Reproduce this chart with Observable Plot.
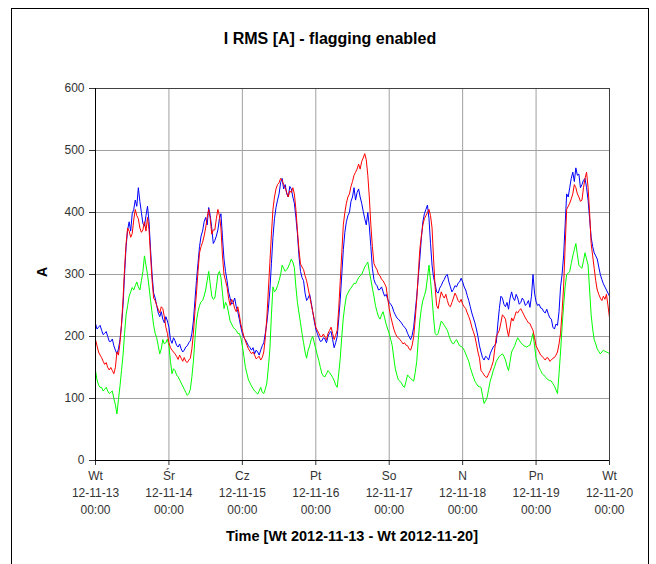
<!DOCTYPE html>
<html><head><meta charset="utf-8">
<script src="https://cdn.jsdelivr.net/npm/d3@7"></script>
<script src="https://cdn.jsdelivr.net/npm/@observablehq/plot@0.6"></script>
<style>
body{margin:0;background:#fff;font-family:"Liberation Sans",Arial,sans-serif;}
#wrap{position:relative;width:656px;height:564px;overflow:hidden;background:#fff;}
#wrap svg{position:absolute;left:0;top:0;}
#border{position:absolute;left:11px;top:8px;width:636px;height:620px;border:1px solid #000;pointer-events:none;}
.t{position:absolute;font-weight:bold;color:#000;white-space:nowrap;}
</style></head><body>
<div id="wrap"></div>
<script>
// Tick labels
const dayNames = ["Wt", "Śr", "Cz", "Pt", "So", "N", "Pn", "Wt"];
const dayDates = ["12-11-13", "12-11-14", "12-11-15", "12-11-16", "12-11-17", "12-11-18", "12-11-19", "12-11-20"];
const tickHours = [0, 24, 48, 72, 96, 120, 144, 168];
const yTicks = [0, 100, 200, 300, 400, 500, 600];

// Hours since 2012-11-13 00:00 (one reading every 30 minutes)
const hours = d3.range(0, 168.5, 0.5);

// Series values [A] (two readings per hour)
const blue = [
  221,212, 215,218, 210,203, 205,208, 200,192, 192,196, 185,178, 172,180, 195,218, 250,300,
  345,372, 385,370, 398,405, 420,410, 440,418, 400,382, 378,395, 410,385, 340,300, 270,262,
  250,238, 232,240, 228,222, 232,225, 215,195, 189,198, 193,186, 183,188, 180,175, 178,183,
  185,190, 193,205, 225,258, 290,318, 345,362, 370,385, 392,380, 408,395, 375,350, 355,362,
  372,390, 398,360, 325,305, 290,272, 262,252, 255,262, 248,240, 228,215, 205,198, 195,190,
  185,182, 178,182, 172,178, 175,170, 178,185, 190,205, 222,245, 275,318, 360,390, 408,420,
  430,448, 455,438, 445,430, 425,442, 438,425, 415,392, 366,330, 305,295, 290,270, 258,262,
  268,255, 240,225, 212,205, 198,192, 193,198, 196,190, 200,206, 208,195, 182,190, 200,228,
  260,300, 340,368, 385,395, 400,418, 425,440, 420,432, 438,425, 415,402, 390,380, 400,378,
  345,310, 292,285, 282,275, 276,280, 272,265, 268,260, 255,252, 248,240, 235,230, 228,225,
  222,218, 215,212, 205,200, 195,202, 215,240, 265,295, 325,358, 385,398, 405,412, 390,350,
  315,295, 285,272, 270,278, 282,288, 292,298, 300,288, 280,272, 276,282, 280,286, 288,294,
  288,280, 275,266, 258,248, 238,230, 222,212, 200,185, 175,166, 162,168, 166,162, 172,178,
  183,186, 190,220, 245,265, 262,252, 248,255, 244,262, 272,262, 258,268, 262,252, 255,262,
  258,250, 253,258, 247,265, 300,270, 256,250, 252,246, 245,240, 238,244, 236,230, 228,215,
  212,220, 218,240, 280,300, 330,380, 430,425, 440,455, 465,450, 472,460, 462,440, 445,452,
  455,440, 420,390, 360,345, 335,330, 325,312, 300,292, 285,280, 275,270, 265
];
const red = [
  195,185, 175,170, 166,160, 155,158, 150,146, 150,145, 140,150, 175,170, 190,220, 260,310,
  350,375, 370,360, 366,388, 405,395, 390,375, 368,372, 385,370, 392,372, 330,290, 262,258,
  250,244, 238,248, 245,232, 215,205, 190,182, 178,175, 172,168, 163,170, 165,160, 166,160,
  158,162, 165,180, 205,240, 270,305, 335,345, 352,362, 375,392, 405,390, 365,372, 372,390,
  405,395, 375,330, 300,290, 280,262, 250,260, 255,245, 240,248, 235,220, 210,200, 193,186,
  180,176, 172,175, 170,164, 166,168, 162,166, 175,198, 230,275, 320,365, 405,425, 438,445,
  448,455, 452,445, 440,432, 425,435, 432,440, 430,405, 371,340, 317,312, 308,298, 290,278,
  265,252, 240,228, 215,210, 205,200, 200,204, 199,195, 205,210, 215,205, 195,202, 210,245,
  290,335, 380,400, 415,425, 430,442, 450,460, 465,470, 478,470, 482,488, 495,485, 460,425,
  380,345, 318,312, 308,300, 298,292, 290,285, 280,262, 245,232, 222,212, 205,200, 198,195,
  192,188, 190,186, 185,180, 178,186, 200,228, 260,300, 340,362, 380,390, 395,400, 405,395,
  375,325, 280,250, 245,260, 272,266, 262,268, 258,250, 248,255, 262,270, 265,258, 255,260,
  252,248, 245,238, 232,225, 215,208, 200,188, 175,165, 145,142, 138,135, 134,140, 145,152,
  160,180, 200,205, 210,222, 235,232, 228,212, 200,215, 230,225, 232,240, 238,242, 245,240,
  235,230, 226,222, 221,215, 210,198, 185,180, 175,170, 168,165, 162,166, 165,160, 162,165,
  166,170, 175,188, 205,240, 280,345, 405,410, 415,422, 430,445, 440,430, 425,418, 420,440,
  455,465, 440,400, 350,330, 310,290, 275,268, 262,258, 265,260, 268,250, 230
];
const green = [
  145,130, 122,118, 118,112, 115,118, 112,108, 110,112, 100,90, 75,98, 120,145, 170,205,
  235,250, 265,272, 279,275, 282,288, 280,275, 290,305, 330,315, 300,280, 258,238, 218,205,
  198,185, 172,180, 195,188, 190,196, 185,160, 140,148, 145,138, 135,130, 125,120, 115,110,
  105,108, 115,135, 160,195, 225,240, 250,256, 258,265, 275,290, 305,285, 265,260, 262,280,
  300,305, 295,270, 245,255, 250,238, 225,220, 215,212, 210,205, 205,198, 185,168, 150,140,
  130,125, 120,116, 112,110, 107,112, 118,110, 108,115, 125,150, 180,235, 280,272, 275,282,
  290,300, 315,310, 305,308, 312,318, 325,320, 311,280, 255,238, 222,205, 190,175, 165,178,
  185,195, 200,190, 180,170, 161,150, 140,136, 135,140, 145,142, 138,134, 129,122, 118,140,
  165,200, 230,250, 265,270, 275,278, 282,286, 285,290, 295,298, 300,306, 312,316, 320,305,
  292,278, 265,250, 240,232, 228,235, 240,230, 220,212, 205,195, 185,165, 148,138, 130,128,
  125,120, 118,128, 138,135, 132,130, 128,142, 160,195, 225,245, 258,266, 275,295, 315,290,
  262,230, 205,202, 205,215, 225,222, 218,214, 210,202, 195,190, 188,192, 195,190, 185,184,
  182,178, 172,166, 160,150, 142,135, 128,124, 120,119, 118,105, 92,96, 102,115, 128,136,
  145,152, 160,164, 168,170, 172,168, 162,152, 145,160, 175,180, 185,192, 198,194, 190,188,
  185,184, 183,185, 186,195, 205,185, 165,158, 150,145, 140,138, 135,132, 130,129, 128,124,
  120,114, 108,140, 175,215, 250,280, 300,302, 305,318, 330,340, 350,332, 315,312, 310,322,
  335,325, 315,275, 235,212, 195,188, 180,176, 172,175, 178,176, 175,174, 172
];

const seriesNames = ["L3", "L1", "L2"];
const seriesColors = ["#00ff00", "#0000ff", "#ff0000"];
const seriesValues = [green, blue, red];

const rows = [];
seriesValues.forEach((vals, k) => vals.forEach((v, i) => rows.push({h: hours[i], v, s: seriesNames[k]})));

const chart = Plot.plot({
  width: 656, height: 564,
  marginLeft: 95, marginRight: 47, marginTop: 88, marginBottom: 104,
  style: {fontFamily: "Liberation Sans, Arial, sans-serif", fontSize: "12px", background: "transparent", overflow: "visible"},
  x: {domain: [0, 168]},
  y: {domain: [0, 600]},
  color: {domain: seriesNames, range: seriesColors},
  marks: [
    Plot.gridX(tickHours, {stroke: "#a0a0a0", strokeOpacity: 1}),
    Plot.gridY(yTicks, {stroke: "#a0a0a0", strokeOpacity: 1}),
    Plot.line(rows, {x: "h", y: "v", z: "s", stroke: "s", strokeWidth: 1}),
    Plot.frame({stroke: "#404040"}),
    Plot.axisY(yTicks, {tickSize: 6, tickPadding: 5, label: null, color: "#333"}),
    Plot.axisX(tickHours, {tickSize: 5, tickPadding: 2, label: null, color: "#333", lineHeight: 1.42,
      tickFormat: d => { const i = tickHours.indexOf(d); return `${dayNames[i]}\n${dayDates[i]}\n00:00`; }}),
    Plot.ruleX([0], {stroke: "#000"}),
    Plot.ruleY([0], {stroke: "#000"})
  ]
});

const wrap = document.getElementById("wrap");
wrap.appendChild(chart);
const addText = (txt, css) => { const d = document.createElement("div"); d.className = "t"; d.textContent = txt; Object.assign(d.style, css); wrap.appendChild(d); };
addText("I RMS [A] - flagging enabled", {left: "0", width: "660px", textAlign: "center", top: "30px", fontSize: "16px"});
addText("Time [Wt 2012-11-13 - Wt 2012-11-20]", {left: "95px", width: "514px", textAlign: "center", top: "528px", fontSize: "14.5px"});
addText("A", {left: "37px", top: "264px", fontSize: "14px", transform: "rotate(-90deg)", transformOrigin: "center"});
const b = document.createElement("div"); b.id = "border"; wrap.appendChild(b);
</script>
</body></html>
